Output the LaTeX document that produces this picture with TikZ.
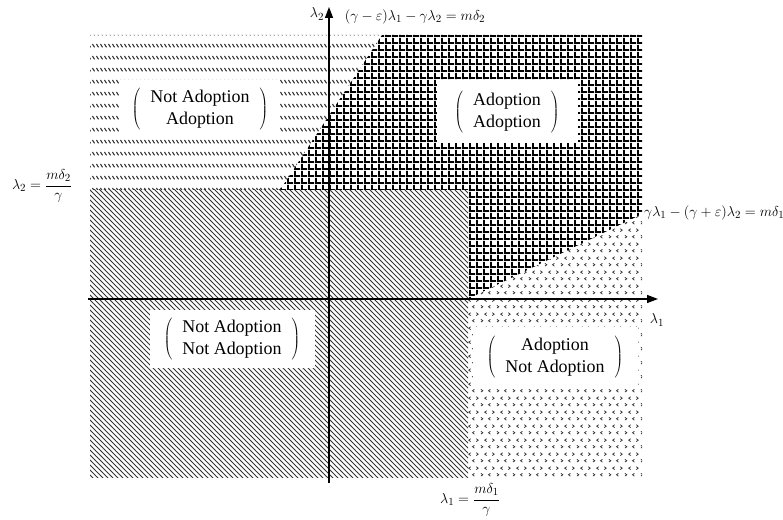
\documentclass[tikz,border=0pt]{standalone}
\usepackage{fontspec}
\setmainfont{Liberation Serif}
\usetikzlibrary{arrows.meta,patterns.meta}

% short slanted strokes set in rows
\tikzdeclarepattern{
  name=tickrows,
  type=uncolored,
  bounding box={(0,0) and (4bp,12bp)},
  tile size={(4bp,12bp)},
  code={
    \draw[line width=1.3bp] (0.6bp,8.6bp) -- (3.2bp,5bp);
  }
}
% square mesh, bars on whole pixels
\tikzdeclarepattern{
  name=mesh,
  type=uncolored,
  bounding box={(0,0) and (7bp,7bp)},
  tile size={(7bp,7bp)},
  code={
    \fill (0,0) rectangle (7bp,2bp);
    \fill (0,0) rectangle (2bp,7bp);
  }
}
% little < and > marks
\tikzdeclarepattern{
  name=chevrons,
  type=uncolored,
  bounding box={(0,0) and (16bp,14bp)},
  tile size={(16bp,14bp)},
  code={
    \draw[line width=0.8bp] (1bp,2bp) -- (3bp,3.5bp) -- (1bp,5bp);
    \draw[line width=0.8bp] (11bp,2bp) -- (9bp,3.5bp) -- (11bp,5bp);
    \draw[line width=0.8bp] (7bp,9bp) -- (5bp,10.5bp) -- (7bp,12bp);
    \draw[line width=0.8bp] (13bp,9bp) -- (15bp,10.5bp) -- (13bp,12bp);
  }
}

\begin{document}
\begin{tikzpicture}[x=1bp,y=1bp,
  outcome/.style={fill=white, inner sep=0pt, font=\fontsize{18}{22}\selectfont},
  axis/.style={line width=1.3bp, -{Triangle[length=11bp,width=8bp]}},
  lbl/.style={font=\fontsize{15.5}{18}\selectfont, inner sep=1bp}]
\useasboundingbox (0,0) rectangle (783,520);

% the four regions
\fill[pattern={Lines[angle=-45,distance=3.5355bp,line width=1bp]}, pattern color=black!80]
  (90,42) rectangle (468,330);
\fill[pattern=tickrows, pattern color=black!80]
  (90,330) -- (280,330) -- (382,485) -- (90,485) -- cycle;
\fill[pattern=mesh, pattern color=black]
  (280,330) -- (468,330) -- (468,221) -- (642,306) -- (642,485) -- (382,485) -- cycle;
\fill[pattern=chevrons, pattern color=black!80]
  (468,42) -- (468,221) -- (642,306) -- (642,42) -- cycle;

% axes
\coordinate (xs) at (88,221);
\coordinate (xe) at (658,221);
\coordinate (ys) at (329,37);
\coordinate (ye) at (329,513);
\draw[axis] (xs) -- (xe);
\draw[axis] (ys) -- (ye);

% outcomes
\newcommand{\pair}[2]{$\left(\begin{tabular}{@{\hspace{10bp}}c@{\hspace{10bp}}}#1\\#2\end{tabular}\right)$}
\node[outcome, minimum width=160bp, minimum height=58bp] (naa) at (200,411) {\pair{Not Adoption}{Adoption}};
\node[outcome, minimum width=141bp, minimum height=63bp] (aa) at (507,408) {\pair{Adoption}{Adoption}};
\node[outcome, minimum width=165bp, minimum height=58bp] (nana) at (232,181) {\pair{Not Adoption}{Not Adoption}};
\node[outcome, minimum width=165bp, minimum height=60bp] (ana) at (555,163) {\pair{Adoption}{Not Adoption}};

% axis and boundary labels
\node[lbl] (lamtwo) at (317,506) {$\lambda_2$};
\node[lbl] (lamone) at (657,200) {$\lambda_1$};
\node[lbl] (lineone) at (415,503) {$(\gamma-\varepsilon)\lambda_1-\gamma\lambda_2=m\delta_2$};
\node[lbl, anchor=west] (linetwo) at (643,307) {$\gamma\lambda_1-(\gamma+\varepsilon)\lambda_2=m\delta_1$};
\node[lbl] (lvltwo) at (42,334) {$\displaystyle\lambda_2=\frac{m\delta_2}{\gamma}$};
\node[lbl] (lvlone) at (470,20) {$\displaystyle\lambda_1=\frac{m\delta_1}{\gamma}$};
\end{tikzpicture}
\end{document}
